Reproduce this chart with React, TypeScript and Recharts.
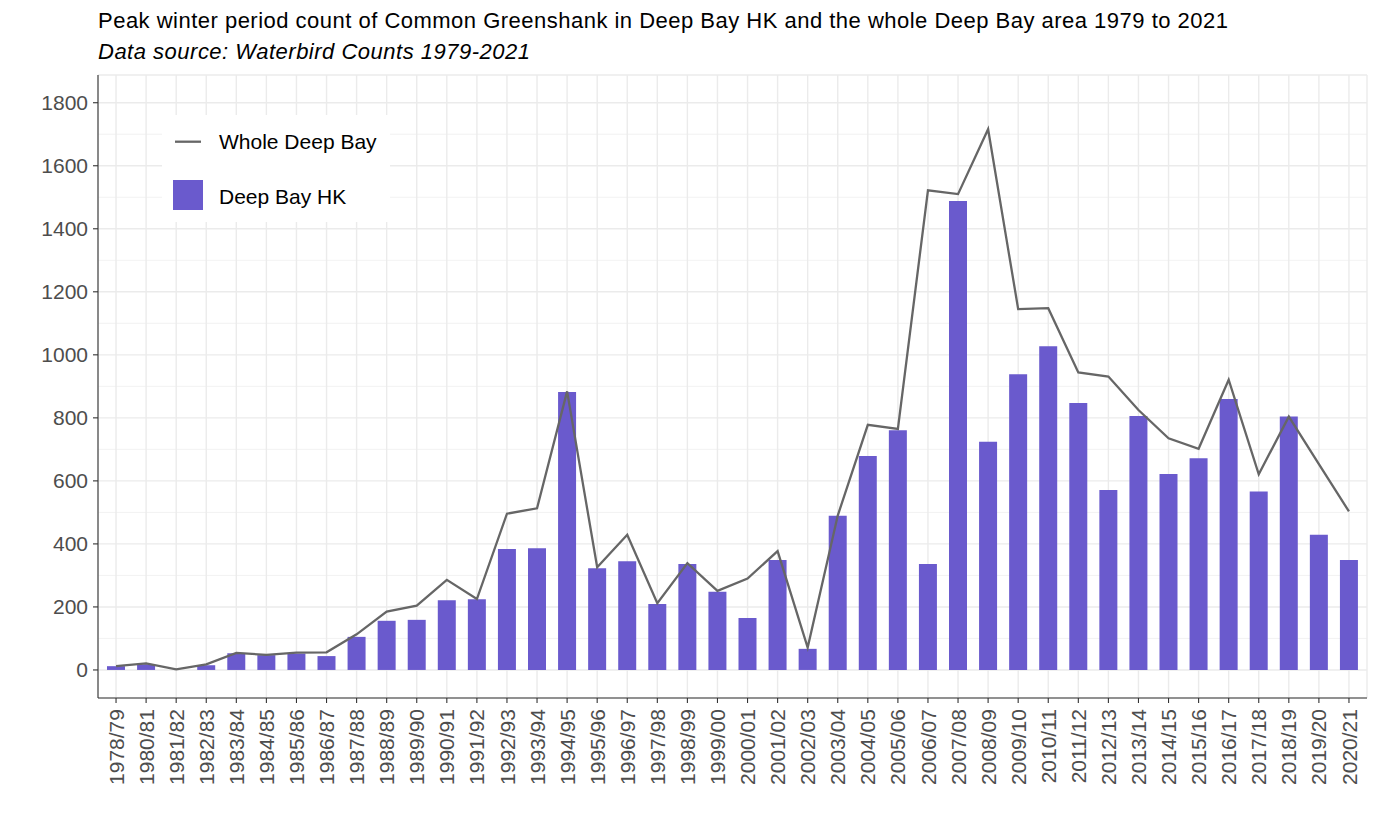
import React from "react";
import {
  ComposedChart,
  Bar,
  Line,
  XAxis,
  YAxis,
  CartesianGrid,
  Legend,
} from "recharts";

const seasons = [
  "1978/79", "1980/81", "1981/82", "1982/83", "1983/84", "1984/85", "1985/86",
  "1986/87", "1987/88", "1988/89", "1989/90", "1990/91", "1991/92", "1992/93",
  "1993/94", "1994/95", "1995/96", "1996/97", "1997/98", "1998/99", "1999/00",
  "2000/01", "2001/02", "2002/03", "2003/04", "2004/05", "2005/06", "2006/07",
  "2007/08", "2008/09", "2009/10", "2010/11", "2011/12", "2012/13", "2013/14",
  "2014/15", "2015/16", "2016/17", "2017/18", "2018/19", "2019/20", "2020/21",
];

const deepBayHK = [
  12, 18, 0, 15, 53, 47, 52, 44, 105, 156, 159, 221, 224, 384, 386, 882, 323,
  345, 209, 336, 248, 165, 349, 67, 489, 679, 761, 336, 1488, 724, 938, 1027,
  847, 571, 806, 622, 672, 860, 566, 804, 429, 349,
];

const wholeDeepBay = [
  12, 21, 2, 18, 54, 48, 55, 56, 113, 185, 204, 286, 225, 496, 513, 884, 326,
  429, 212, 339, 251, 290, 377, 71, 490, 778, 765, 1522, 1510, 1716, 1145, 1148,
  944, 931, 825, 735, 702, 921, 621, 804, 653, 503,
];

const yTicks = [0, 200, 400, 600, 800, 1000, 1200, 1400, 1600, 1800];
const yMinor = [100, 300, 500, 700, 900, 1100, 1300, 1500, 1700];

const titleText =
  "Peak winter period count of Common Greenshank in Deep Bay HK and the whole Deep Bay area 1979 to 2021";
const subtitleText = "Data source: Waterbird Counts 1979-2021";

const data = seasons.map((s, i) => ({
  season: s,
  hk: deepBayHK[i],
  whole: wholeDeepBay[i],
}));

const FONT = "'Liberation Sans', Arial, sans-serif";

const XTick = (props: any) => {
  const { x, y, payload } = props;
  return (
    <text
      x={x}
      y={y + 4}
      transform={`rotate(-90, ${x}, ${y + 4})`}
      textAnchor="end"
      dy="0.36em"
      fontSize={21}
      fontFamily={FONT}
      fill="#4d4d4d"
    >
      {payload.value}
    </text>
  );
};

const LegendBox = () => (
  <div
    style={{
      position: "relative",
      width: 228,
      height: 107,
      background: "#ffffff",
      fontFamily: FONT,
      fontSize: 21,
      color: "#000",
    }}
  >
    <svg width={228} height={107} style={{ position: "absolute", left: 0, top: 0 }}>
      <line x1={13} y1={26.7} x2={39} y2={26.7} stroke="#666666" strokeWidth={2.3} />
      <rect x={11} y={65} width={30} height={30} fill="#6a5acd" />
    </svg>
    <div style={{ position: "absolute", left: 57, top: 16.2, lineHeight: "21px", whiteSpace: "nowrap" }}>
      Whole Deep Bay
    </div>
    <div style={{ position: "absolute", left: 57, top: 70.5, lineHeight: "21px", whiteSpace: "nowrap" }}>
      Deep Bay HK
    </div>
  </div>
);

export default function App() {
  return (
    <div
      style={{
        position: "absolute",
        left: 0,
        top: 0,
        width: 1378,
        height: 827,
        background: "#ffffff",
        fontFamily: FONT,
      }}
    >
      <svg width={1378} height={70} style={{ position: "absolute", left: 0, top: 0 }}>
        <text
          x={98}
          y={28.3}
          fontSize={22}
          fontFamily={FONT}
          fill="#000"
          textLength={1130}
          lengthAdjust="spacing"
        >
          {titleText}
        </text>
        <text
          x={98}
          y={59}
          fontSize={22}
          fontFamily={FONT}
          fontStyle="italic"
          fill="#000"
          textLength={432}
          lengthAdjust="spacing"
        >
          {subtitleText}
        </text>
      </svg>
      <ComposedChart
        width={1378}
        height={827}
        data={data}
        margin={{ top: 75, right: 11, left: 38, bottom: 19 }}
        barSize={18}
        style={{ position: "absolute", left: 0, top: 0 }}
      >
        <CartesianGrid
          horizontalValues={yMinor}
          vertical={false}
          stroke="#ededed"
          strokeWidth={0.7}
        />
        <CartesianGrid stroke="#ebebeb" strokeWidth={1.4} />
        <XAxis
          dataKey="season"
          interval={0}
          tick={<XTick />}
          tickSize={5}
          tickLine={{ stroke: "#333333", strokeWidth: 1.1 }}
          axisLine={{ stroke: "#333333", strokeWidth: 1.1 }}
          height={110}
          padding={{ left: 3, right: 3 }}
        />
        <XAxis
          xAxisId="top"
          orientation="top"
          dataKey="season"
          tick={false}
          tickLine={false}
          axisLine={{ stroke: "#333333", strokeWidth: 1.1 }}
          height={0}
        />
        <YAxis
          type="number"
          domain={[-89, 1888]}
          allowDataOverflow
          ticks={yTicks}
          interval={0}
          width={60}
          tickSize={5}
          tickMargin={5}
          tick={{ fontSize: 21, fill: "#4d4d4d", fontFamily: FONT }}
          tickLine={{ stroke: "#333333", strokeWidth: 1.1 }}
          axisLine={{ stroke: "#333333", strokeWidth: 1.1 }}
        />
        <YAxis
          yAxisId="right"
          orientation="right"
          tick={false}
          tickLine={false}
          axisLine={{ stroke: "#333333", strokeWidth: 1.1 }}
          width={0}
        />
        <Legend
          layout="vertical"
          align="center"
          verticalAlign="middle"
          content={<LegendBox />}
          wrapperStyle={{ position: "absolute", left: 162, top: 115, width: 228, height: 107 }}
        />
        <Bar dataKey="hk" name="Deep Bay HK" fill="#6a5acd" isAnimationActive={false} />
        <Line
          type="linear"
          dataKey="whole"
          name="Whole Deep Bay"
          stroke="#666666"
          strokeWidth={2.3}
          dot={false}
          activeDot={false}
          isAnimationActive={false}
        />
      </ComposedChart>
    </div>
  );
}
